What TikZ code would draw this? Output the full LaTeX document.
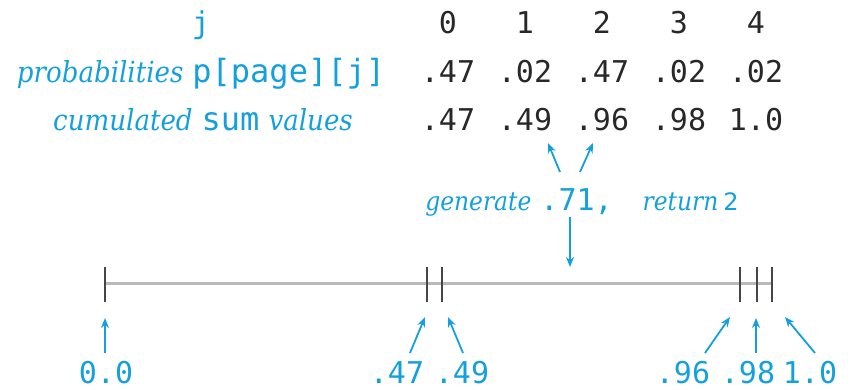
\documentclass[tikz,border=0pt]{standalone}
\usepackage{fontspec}
\setmonofont{DejaVu Sans Mono}
\setsansfont{DejaVu Sans}
\newfontfamily\captionit{DejaVu Serif Condensed Italic}
\usetikzlibrary{arrows.meta}
\definecolor{cyanink}{RGB}{20,160,220}
\definecolor{tickgray}{RGB}{70,70,70}
\definecolor{linegray}{RGB}{185,185,185}
\definecolor{numink}{RGB}{40,40,40}
\newcommand{\wordit}[1]{{\captionit\fontsize{29}{31}\selectfont #1}}
\newcommand{\smallit}[1]{{\captionit\fontsize{26}{28}\selectfont #1}}
\newcommand{\codeword}[1]{{\ttfamily\fontsize{32}{34}\selectfont #1}}

\begin{document}
\begin{tikzpicture}[x=1pt,y=-1pt,
  cell/.style={anchor=base, inner sep=0pt, text=numink,
    font=\fontsize{30}{32}\selectfont\ttfamily},
  hdr/.style={cell, text=cyanink},
  lbl/.style={anchor=base, inner sep=0pt, text=cyanink,
    font=\fontsize{30}{32}\selectfont},
  pointlabel/.style={anchor=base, inner sep=0pt, text=cyanink, text depth=0pt,
    font=\fontsize{30}{32}\selectfont\ttfamily},
  ptr/.style={cyanink, line width=1.8pt, -{Stealth[length=10pt,width=8pt]}},
  tickline/.style={tickgray, line width=1.8pt},
  axis/.style={linegray, line width=3pt}]

\useasboundingbox (0,0) rectangle (854,389);

% table header and row labels
\node[hdr] (jhead) at (201,33) {j};
\node[lbl] (plabel) at (201,82) {\wordit{probabilities} \codeword{p[page][j]}};
\node[lbl] (clabel) at (203,130) {\wordit{cumulated} \codeword{sum} \wordit{values}};

% index, probability and cumulated rows
\foreach \x/\j/\p/\c in {448/0/.47/.47, 525/1/.02/.49, 602/2/.47/.96, 679/3/.02/.98, 756/4/.02/1.0} {
  \node[cell] (idx\j) at (\x,33) {\j};
  \node[cell] (prob\j) at (\x,82) {\p};
  \node[cell] (cum\j) at (\x,130) {\c};
}

% the random draw
\node[lbl] (gen) at (582,210) {\smallit{generate} \texttt{.71,}\quad\smallit{return}\,{\sffamily\fontsize{24}{26}\selectfont 2}};
\coordinate (genL) at (560,172);
\coordinate (genR) at (580,172);
\coordinate (hitL) at (548,143);
\coordinate (hitR) at (593,143);
\draw[ptr] (genL) -- (hitL);
\draw[ptr] (genR) -- (hitR);

\coordinate (genD) at (570,217);
\coordinate (hitD) at (570,267);
\draw[ptr] (genD) -- (hitD);

% the unit interval with its break points
\coordinate (axL) at (105,283);
\coordinate (axR) at (772,283);
\draw[axis] (axL) -- (axR);
\foreach \x/\n in {105/t0, 427/t1, 442/t2, 740/t3, 757/t4, 772/t5} {
  \coordinate (\n top) at (\x,267);
  \coordinate (\n bot) at (\x,302);
  \draw[tickline] (\n top) -- (\n bot);
}

% break point labels
\node[pointlabel] (m0) at (106,383) {0.0};
\node[pointlabel] (m1) at (397,383) {.47};
\node[pointlabel] (m2) at (462,383) {.49};
\node[pointlabel] (m3) at (683,383) {.96};
\node[pointlabel] (m4) at (748,383) {.98};
\node[pointlabel] (m5) at (810,383) {1.0};

\foreach \n/\tx/\hx/\hy in {0/105/105/318, 1/410/425/317, 2/463/448/317, 3/705/730/317, 4/756/756/318, 5/815/785/317} {
  \coordinate (a\n tail) at (\tx,353);
  \coordinate (a\n head) at (\hx,\hy);
  \draw[ptr] (a\n tail) -- (a\n head);
}
\end{tikzpicture}
\end{document}
